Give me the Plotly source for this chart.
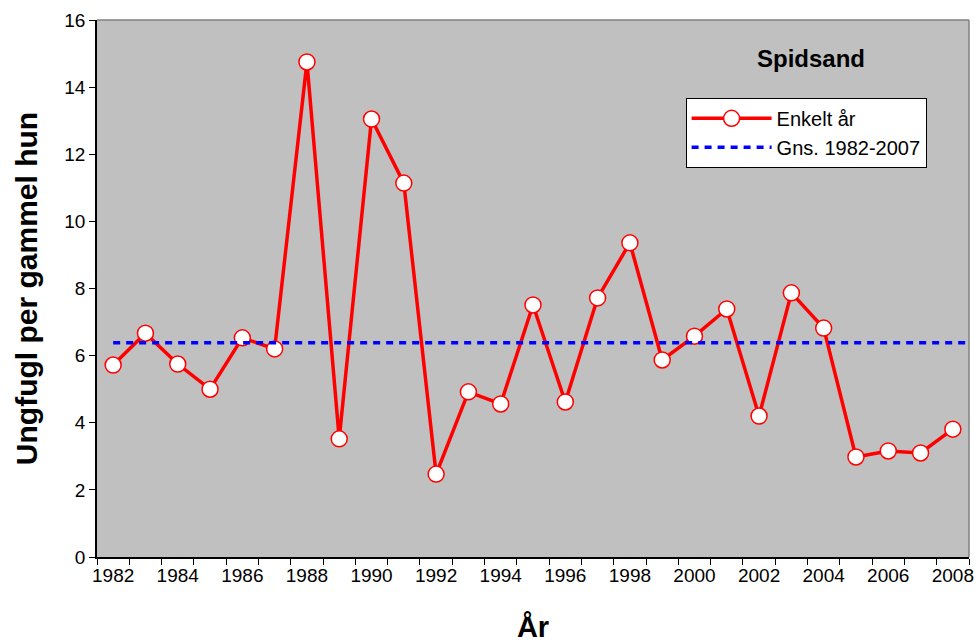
import plotly.graph_objects as go

years = list(range(1982, 2009))
values = [5.72, 6.67, 5.75, 5.0, 6.53, 6.2, 14.75, 3.52, 13.05, 11.14, 2.47, 4.92,
          4.56, 7.51, 4.62, 7.72, 9.36, 5.87, 6.58, 7.39, 4.2, 7.87, 6.82, 2.98,
          3.16, 3.1, 3.81]
avg_value = 6.38
avg_x = [1982, 2008.5]
tick_years = list(range(1982, 2009, 2))
tick_labels = [str(y) for y in tick_years]

FONT = "Liberation Sans, Arial, sans-serif"

fig = go.Figure()
fig.add_trace(go.Scatter(
    x=years, y=values, mode="lines+markers", name="Enkelt år",
    line=dict(color="#FF0000", width=3.5),
    marker=dict(size=16, color="white", line=dict(color="#FF0000", width=1.5)),
))
fig.add_trace(go.Scatter(
    x=avg_x, y=[avg_value, avg_value], mode="lines", name="Gns. 1982-2007",
    line=dict(color="#0000FF", width=3.5, dash="7px,6px"),
))

fig.add_annotation(text="<b>Spidsand</b>", x=0.819, y=0.929, xref="paper", yref="paper",
                   xanchor="center", yanchor="middle",
                   showarrow=False, font=dict(family=FONT, size=24, color="black"))

fig.update_layout(
    width=975, height=643,
    margin=dict(l=97, r=6, t=20, b=86),
    paper_bgcolor="white", plot_bgcolor="#C0C0C0",
    font=dict(family=FONT, size=19, color="black"),
    showlegend=True,
    legend=dict(x=0.675, y=0.855, xanchor="left", yanchor="top",
                bgcolor="white", bordercolor="black", borderwidth=1,
                font=dict(family=FONT, size=20), itemwidth=80, tracegroupgap=0),
    xaxis=dict(
        range=[1981.5, 2008.5], tickmode="array", tickvals=tick_years, ticktext=tick_labels,
        ticks="", showgrid=False, zeroline=False, automargin=False,
        showline=True, linecolor="black", linewidth=1.5, mirror=False,
        minor=dict(tickmode="linear", tick0=1981.5, dtick=1, ticks="outside",
                   ticklen=6, tickcolor="black", showgrid=False),
        title=dict(text="<b>År</b>", font=dict(family=FONT, size=29), standoff=42),
        tickfont=dict(family=FONT, size=19),
    ),
    yaxis=dict(
        range=[0, 16], tickmode="linear", tick0=0, dtick=2,
        ticks="outside", ticklen=6, tickcolor="black", automargin=False,
        showgrid=False, zeroline=False,
        showline=True, linecolor="black", linewidth=1.5,
        title=dict(text="<b>Ungfugl per gammel hun</b>", font=dict(family=FONT, size=30), standoff=18),
        tickfont=dict(family=FONT, size=19),
    ),
)
# gray top and right frame
fig.add_shape(type="line", xref="paper", yref="paper", x0=0, x1=1, y0=1, y1=1,
              line=dict(color="#808080", width=1.5))
fig.add_shape(type="line", xref="paper", yref="paper", x0=1, x1=1, y0=0, y1=1,
              line=dict(color="#808080", width=1.5))

fig.write_html("out.html", config={"displayModeBar": False},
               post_script="document.body.style.margin='0';document.body.style.overflow='hidden';")
